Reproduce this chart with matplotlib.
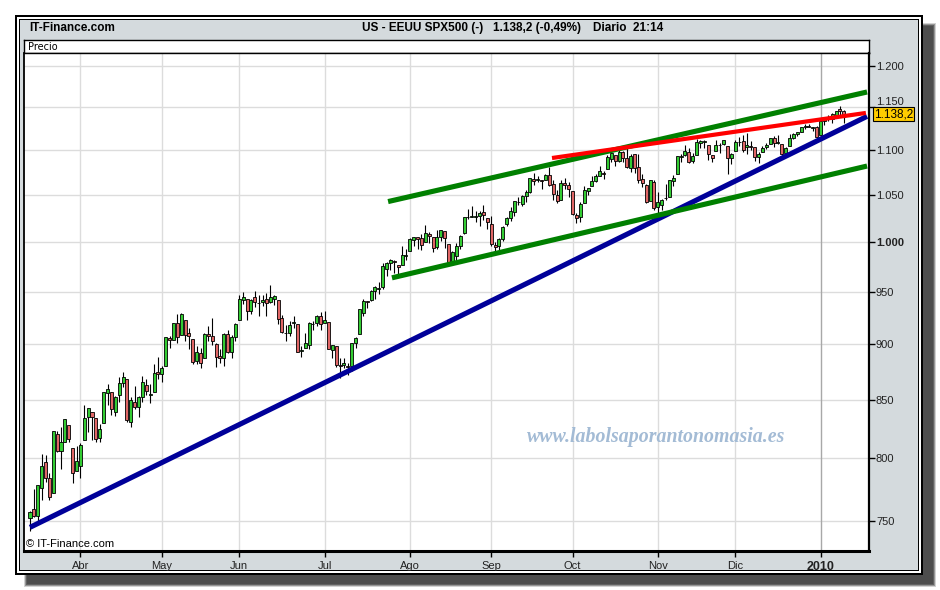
import numpy as np
import pandas as pd
import matplotlib
matplotlib.use("Agg")
import matplotlib.pyplot as plt
from matplotlib.patches import Rectangle
from matplotlib.ticker import FixedLocator, NullLocator, NullFormatter

plt.rcParams['font.family'] = ['Liberation Sans', 'DejaVu Sans']

# SPX500 daily candles, 13-mar-2009 .. 12-ene-2010 (one row per month)
opens = [
    752, 759, 754, 776, 797, 784, 772, 820, 806, 814, 828, 809, 790,
    794, 815, 835, 839, 834, 817, 830, 856, 857, 839, 854, 865, 868, 831, 848, 844, 852, 863, 854, 857, 875,
    873, 880, 906, 904, 920, 909, 923, 911, 905, 885, 892, 887, 910, 908, 900, 889, 887, 910, 893, 907,
    923, 942, 943, 932, 945, 939, 940, 943, 940, 943, 942, 925, 911, 911, 920, 919, 894, 897, 899, 919, 920, 927,
    920, 921, 895, 898, 881, 881, 880, 880, 901, 910, 930, 941, 942, 951, 953, 955, 973, 979, 981, 977, 977, 986,
    991, 1002, 1006, 1004, 1000, 1009, 1006, 995, 1006, 1012, 998, 981, 986, 996, 1010, 1026, 1026, 1027, 1028, 1032, 1025,
    1019, 997, 996, 1003, 1019, 1025, 1032, 1043, 1040, 1049, 1053, 1068, 1066, 1066, 1066, 1072, 1062, 1050, 1045, 1063, 1061,
    1054, 1029, 1026, 1042, 1054, 1060, 1065, 1071, 1074, 1079, 1090, 1094, 1088, 1098, 1091, 1080, 1095, 1081, 1068, 1061, 1044, 1064,
    1037, 1039, 1047, 1048, 1065, 1073, 1092, 1094, 1098, 1088, 1094, 1108, 1109, 1106, 1094, 1099, 1106, 1107, 1105, 1091,
    1099, 1109, 1110, 1103, 1105, 1103, 1092, 1098, 1104, 1107, 1114, 1108, 1107, 1097, 1105, 1114, 1118, 1121, 1127, 1128, 1125, 1127,
    1117, 1133, 1136, 1136, 1141, 1148, 1145,
]
highs = [
    758, 775, 778, 804, 803, 788, 823, 823, 826, 833, 828, 809, 810,
    813, 845, 843, 839, 834, 829, 856, 864, 857, 853, 870, 875, 868, 852, 862, 853, 871, 868, 864, 882, 888,
    880, 907, 908, 920, 929, 930, 923, 915, 905, 898, 897, 911, 917, 925, 901, 896, 911, 913, 909, 920,
    947, 950, 943, 943, 951, 947, 947, 949, 957, 947, 942, 928, 918, 922, 927, 919, 898, 911, 921, 922, 928, 931,
    932, 921, 899, 898, 887, 887, 883, 901, 907, 933, 943, 941, 952, 956, 960, 979, 980, 983, 982, 977, 996, 993,
    1004, 1006, 1006, 1009, 1018, 1011, 1006, 1013, 1013, 1012, 998, 991, 999, 1008, 1027, 1035, 1038, 1033, 1033, 1039, 1025,
    1028, 1000, 1004, 1017, 1026, 1037, 1044, 1048, 1050, 1056, 1069, 1074, 1071, 1067, 1073, 1081, 1066, 1056, 1066, 1069, 1064,
    1054, 1031, 1043, 1060, 1058, 1071, 1073, 1082, 1076, 1094, 1097, 1094, 1100, 1099, 1102, 1096, 1096, 1095, 1073, 1062, 1067, 1066,
    1053, 1046, 1062, 1067, 1072, 1093, 1096, 1106, 1102, 1097, 1113, 1111, 1111, 1106, 1094, 1112, 1108, 1112, 1105, 1097,
    1112, 1115, 1117, 1120, 1110, 1103, 1098, 1105, 1108, 1114, 1116, 1117, 1107, 1103, 1118, 1120, 1121, 1127, 1130, 1130, 1127, 1128,
    1133, 1137, 1140, 1143, 1145, 1151, 1146,
]
lows = [
    742, 753, 750, 766, 781, 766, 772, 805, 791, 814, 814, 780, 790,
    784, 815, 822, 815, 814, 814, 830, 845, 837, 836, 848, 861, 831, 826, 842, 835, 848, 854, 847, 857, 868,
    866, 880, 897, 904, 901, 909, 903, 896, 882, 882, 878, 887, 903, 899, 879, 883, 880, 892, 887, 903,
    923, 938, 923, 929, 935, 927, 936, 927, 939, 937, 919, 911, 903, 908, 915, 893, 888, 897, 896, 913, 917, 913,
    920, 896, 887, 879, 869, 878, 872, 876, 897, 910, 927, 934, 941, 943, 948, 953, 966, 972, 969, 968, 977, 982,
    991, 996, 993, 992, 1000, 999, 990, 993, 1001, 994, 979, 981, 980, 993, 1009, 1024, 1026, 1021, 1017, 1023, 1014,
    996, 991, 992, 1001, 1017, 1022, 1028, 1039, 1038, 1043, 1052, 1061, 1064, 1057, 1066, 1060, 1045, 1041, 1045, 1057, 1048,
    1029, 1020, 1021, 1042, 1050, 1060, 1064, 1071, 1068, 1079, 1086, 1082, 1086, 1086, 1080, 1075, 1074, 1063, 1059, 1042, 1044, 1034,
    1029, 1034, 1045, 1048, 1060, 1073, 1087, 1093, 1085, 1085, 1094, 1102, 1102, 1089, 1086, 1099, 1097, 1106, 1073, 1084,
    1099, 1105, 1098, 1095, 1100, 1088, 1085, 1098, 1101, 1107, 1104, 1107, 1094, 1093, 1105, 1113, 1116, 1121, 1124, 1126, 1122, 1115,
    1117, 1129, 1133, 1131, 1137, 1140, 1131,
]
closes = [
    757, 754, 778, 794, 784, 769, 823, 806, 814, 833, 816, 788, 798,
    811, 834, 843, 835, 816, 825, 857, 859, 842, 852, 865, 870, 832, 850, 844, 852, 866, 858, 855, 874, 873,
    878, 907, 904, 920, 907, 929, 909, 908, 884, 893, 883, 910, 908, 903, 888, 887, 910, 893, 907, 919,
    943, 945, 932, 942, 940, 939, 942, 939, 945, 946, 924, 912, 911, 918, 921, 893, 895, 901, 920, 919, 927, 919,
    923, 896, 899, 881, 880, 883, 879, 901, 906, 933, 941, 940, 951, 955, 954, 976, 979, 982, 980, 975, 987, 987,
    1003, 1006, 1003, 997, 1010, 1007, 994, 1006, 1013, 1004, 980, 990, 996, 1007, 1026, 1026, 1028, 1028, 1031, 1029, 1021,
    998, 995, 1003, 1016, 1025, 1033, 1044, 1043, 1049, 1053, 1069, 1065, 1068, 1065, 1072, 1061, 1051, 1044, 1063, 1061, 1057,
    1030, 1025, 1040, 1055, 1058, 1065, 1071, 1076, 1073, 1092, 1097, 1088, 1098, 1091, 1081, 1093, 1080, 1067, 1063, 1043, 1066, 1036,
    1043, 1045, 1047, 1067, 1069, 1093, 1093, 1099, 1087, 1093, 1109, 1110, 1110, 1095, 1091, 1106, 1106, 1111, 1091, 1096,
    1109, 1109, 1100, 1106, 1103, 1092, 1096, 1102, 1106, 1114, 1108, 1109, 1096, 1102, 1114, 1118, 1121, 1126, 1128, 1126, 1126, 1115,
    1133, 1137, 1137, 1142, 1145, 1145, 1138,
]
holidays = ['2009-04-10', '2009-05-25', '2009-07-03', '2009-09-07',
            '2009-11-26', '2009-12-25', '2010-01-01']
month_names = {1: '2010', 4: 'Abr', 5: 'May', 6: 'Jun', 7: 'Jul', 8: 'Ago',
               9: 'Sep', 10: 'Oct', 11: 'Nov', 12: 'Dic'}
price_ticks = [750, 800, 850, 900, 950, 1000, 1050, 1100, 1150, 1200]

# trend lines drawn on the chart: (candle index, price) end points
blue_line = [(0, 745), (216, 1139)]
green_top = [(92.4, 1043), (216, 1168)]
green_bottom = [(93.4, 964), (216, 1082)]
red_line = [(134.7, 1091), (215.7, 1143)]

last_price = '1.138,2'

dates = pd.bdate_range('2009-03-13', '2010-01-12', freq='C', holidays=holidays)
n = min(len(dates), len(closes))
o = np.array(opens[:n], float)
h = np.array(highs[:n], float)
l = np.array(lows[:n], float)
c = np.array(closes[:n], float)
h = np.maximum(h, np.maximum(o, c))
l = np.minimum(l, np.minimum(o, c))
x = np.arange(n)

W, H = 940, 590
fig = plt.figure(figsize=(W / 100, H / 100), dpi=100)
fig.patch.set_facecolor('white')


def fx(px):
    return px / W


def fy(py):
    return 1 - py / H


# frame, shadow and grey panel, in pixel coordinates
bg = fig.add_axes([0, 0, 1, 1], zorder=0)
bg.set_xlim(0, W)
bg.set_ylim(H, 0)
bg.axis('off')
for k, a in enumerate([0.25, 0.45, 0.7, 1.0]):
    bg.add_patch(Rectangle((24 + k, 23 + k), 912 - 2 * k, 564 - 2 * k,
                           fc='#4d4d4d', ec='none', alpha=a))
bg.add_patch(Rectangle((15, 15), 908, 560, fc='black', ec='none'))
bg.add_patch(Rectangle((17, 17), 904, 556, fc='white', ec='none'))
bg.add_patch(Rectangle((19, 19), 900, 552, fc='black', ec='none'))
bg.add_patch(Rectangle((20, 20), 898, 550, fc='#d4dadd', ec='none'))

# "Precio" strip
hdr = fig.add_axes([fx(24), fy(53), fx(845), 13 / H], zorder=1)
hdr.set_facecolor('white')
hdr.set_xticks([])
hdr.set_yticks([])
for s in hdr.spines.values():
    s.set_color('black')
    s.set_linewidth(1)
hdr.text(0.005, 0.45, 'Precio', transform=hdr.transAxes, fontsize=7,
         va='center', ha='left', family='DejaVu Sans')

# main price panel
ax = fig.add_axes([fx(24), fy(551), fx(845), 498 / H], zorder=2)
ax.set_facecolor('white')
ax.set_yscale('log')
ax.set_ylim(727, 1216)
ax.set_xlim(-1.55, 216.5)

# grid
month_idx = [i for i in range(1, n) if dates[i].month != dates[i - 1].month]
month_lbl = [month_names[dates[i].month] for i in month_idx]
for v in price_ticks:
    ax.axhline(v, color='#dcdcdc', lw=1, zorder=1)
for i, lab in zip(month_idx, month_lbl):
    ax.axvline(i, color='#a8a8a8' if lab == '2010' else '#dcdcdc', lw=1, zorder=1)

# candles
up = c >= o
body_lo = np.minimum(o, c)
body_h = np.abs(c - o)
ax.vlines(x, l, h, color='black', lw=0.8, zorder=3)
ax.bar(x[up], body_h[up], bottom=body_lo[up], width=0.78, color='#33cc33',
       edgecolor='black', linewidth=0.6, zorder=4)
ax.bar(x[~up], body_h[~up], bottom=body_lo[~up], width=0.78, color='#e06666',
       edgecolor='black', linewidth=0.6, zorder=4)

# trend lines
for pts, col, lw in [(blue_line, '#000099', 3.7), (green_top, '#008000', 3.7),
                     (green_bottom, '#008000', 3.7), (red_line, '#ff0000', 3.0)]:
    xs, ys = zip(*pts)
    ax.plot(xs, ys, color=col, lw=lw, solid_capstyle='butt', zorder=5)

# axes look
ax.yaxis.tick_right()
ax.yaxis.set_major_locator(FixedLocator(price_ticks))
ax.yaxis.set_minor_locator(NullLocator())
ax.yaxis.set_minor_formatter(NullFormatter())
ax.set_yticklabels([f'{v:,}'.replace(',', '.') for v in price_ticks])
ax.set_xticks(month_idx)
ax.set_xticklabels(month_lbl)
ax.tick_params(axis='y', length=4, width=1, pad=1, labelsize=8, labelcolor='#222222')
ax.tick_params(axis='x', length=4, width=1, pad=3, labelsize=8, labelcolor='#222222')
for t in ax.get_yticklabels():
    if t.get_text() == '1.000':
        t.set_fontweight('bold')
    if t.get_text() == '1.150':
        t.set_va('bottom')
for t in ax.get_xticklabels():
    if t.get_text() == '2010':
        t.set_fontweight('bold')
        t.set_fontsize(9)
ax.spines['bottom'].set_linewidth(2.2)
ax.spines['left'].set_linewidth(1.3)
ax.spines['right'].set_linewidth(1.6)
ax.spines['top'].set_linewidth(1)

# texts
fig.text(fx(29), fy(28), 'IT-Finance.com', fontsize=8.5, fontweight='bold',
         ha='left', va='center')
fig.text(fx(362), fy(28), 'US - EEUU SPX500 (-)', fontsize=8.5, fontweight='bold',
         ha='left', va='center')
fig.text(fx(493), fy(28), '1.138,2 (-0,49%)', fontsize=8.5, fontweight='bold',
         ha='left', va='center')
fig.text(fx(593), fy(28), 'Diario  21:14', fontsize=8.5, fontweight='bold',
         ha='left', va='center')
fig.text(fx(26), fy(544), '\u00a9 IT-Finance.com', fontsize=8, ha='left', va='center',
         zorder=6)
fig.text(fx(656), fy(437), 'www.labolsaporantonomasia.es', fontsize=14.3,
         family='Liberation Serif', fontweight='bold', style='italic',
         color='#a3bbd5', ha='center', va='center', zorder=6)
fig.text(fx(893.5), fy(114), last_price, fontsize=8.5, ha='center', va='center',
         zorder=7, bbox=dict(boxstyle='square,pad=0.1', fc='#ffcc00', ec='black', lw=0.8))

fig.savefig('out.png', dpi=100)
